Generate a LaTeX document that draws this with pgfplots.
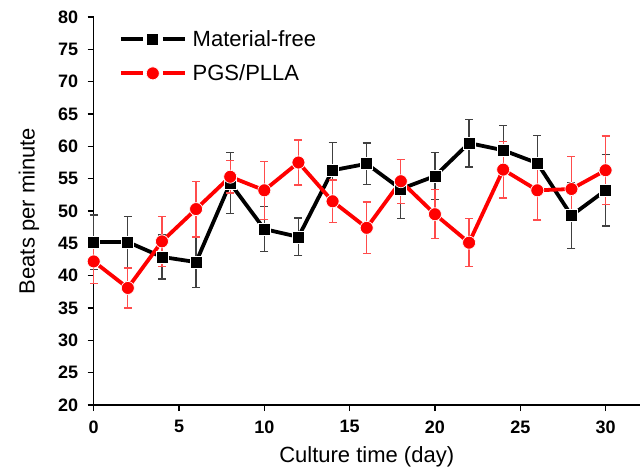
\documentclass[border=0pt]{standalone}
\usepackage{pgfplots}
\pgfplotsset{compat=1.18}
\usepackage{fontspec}
\setmainfont{Liberation Sans}
\pgfplotstableread{
x y e
0 45.2 4.2
2 45.2 4.0
4 42.9 3.4
6 42.1 3.9
8 54.3 4.7
10 47.2 3.5
12 46.0 2.9
14 56.3 4.3
16 57.3 3.2
18 53.4 4.6
20 55.4 3.6
22 60.5 3.7
24 59.4 3.8
26 57.4 4.3
28 49.3 5.1
30 53.2 5.5
}\blackdata
\pgfplotstableread{
x y e
0 42.2 3.4
2 38.1 3.1
4 45.3 3.9
6 50.3 4.3
8 55.3 2.5
10 53.2 4.5
12 57.5 3.5
14 51.5 3.3
16 47.4 4.0
18 54.6 3.4
20 49.5 3.8
22 45.1 3.7
24 56.4 4.4
26 53.2 4.6
28 53.4 5.0
30 56.3 5.3
}\reddata
\begin{document}
\begin{tikzpicture}
\path[use as bounding box] (-93.7pt,-63pt) rectangle (548.3pt,405pt);
\begin{axis}[
  at={(0pt,0pt)}, anchor=south west,
  scale only axis,
  width=546pt, height=388pt,
  xmin=0, xmax=32, ymin=20, ymax=80,
  axis lines=left,
  axis line style={-, line width=1.3pt},
  xtick={0,5,...,30},
  ytick={20,25,...,80},
  tick align=outside,
  major tick length=6pt,
  tick style={line width=1.3pt, black},
  /pgf/number format/assume math mode=true,
  ticklabel style={font=\bfseries\fontsize{18}{19}\selectfont},
  xticklabel style={yshift=-6pt},
  yticklabel style={xshift=-6pt},
  xlabel={Culture time (day)},
  ylabel={Beats per minute},
  label style={font=\fontsize{22}{24}\selectfont},
  xlabel style={yshift=-6pt},
  ylabel style={yshift=12pt},
  legend cell align=left,
  legend style={draw=none, fill=none, at={(25pt,377pt)}, anchor=north west,
    font=\fontsize{22}{24}\selectfont, row sep=13pt, inner sep=0pt},
  legend image code/.code={
    \draw[#1, mark=none] (0pt,0pt) -- (22pt,0pt);
    \draw[#1, mark=none] (42pt,0pt) -- (64pt,0pt);
    \draw[#1, only marks] plot coordinates {(32pt,0pt)};
  },
  clip=false,
]
\addplot[black, line width=3.8pt, mark=square*, mark size=6pt,
  mark options={solid, fill=black, draw=white, line width=0.7pt},
  error bars/.cd, y dir=both, y explicit,
  error bar style={line width=1.3pt, black!75},
  error mark options={rotate=90, mark size=4pt, line width=1.3pt, black!75}]
  table[x=x, y=y, y error=e] {\blackdata};
\addlegendentry{\hspace{4pt}Material-free}
\addplot[red, line width=3.8pt, mark=*, mark size=6.5pt,
  mark options={solid, fill=red, draw=white, line width=0.7pt},
  error bars/.cd, y dir=both, y explicit,
  error bar style={line width=1.3pt, red!70},
  error mark options={rotate=90, mark size=4pt, line width=1.3pt, red!70}]
  table[x=x, y=y, y error=e] {\reddata};
\addlegendentry{\hspace{4pt}PGS/PLLA}
\end{axis}
\end{tikzpicture}
\end{document}
